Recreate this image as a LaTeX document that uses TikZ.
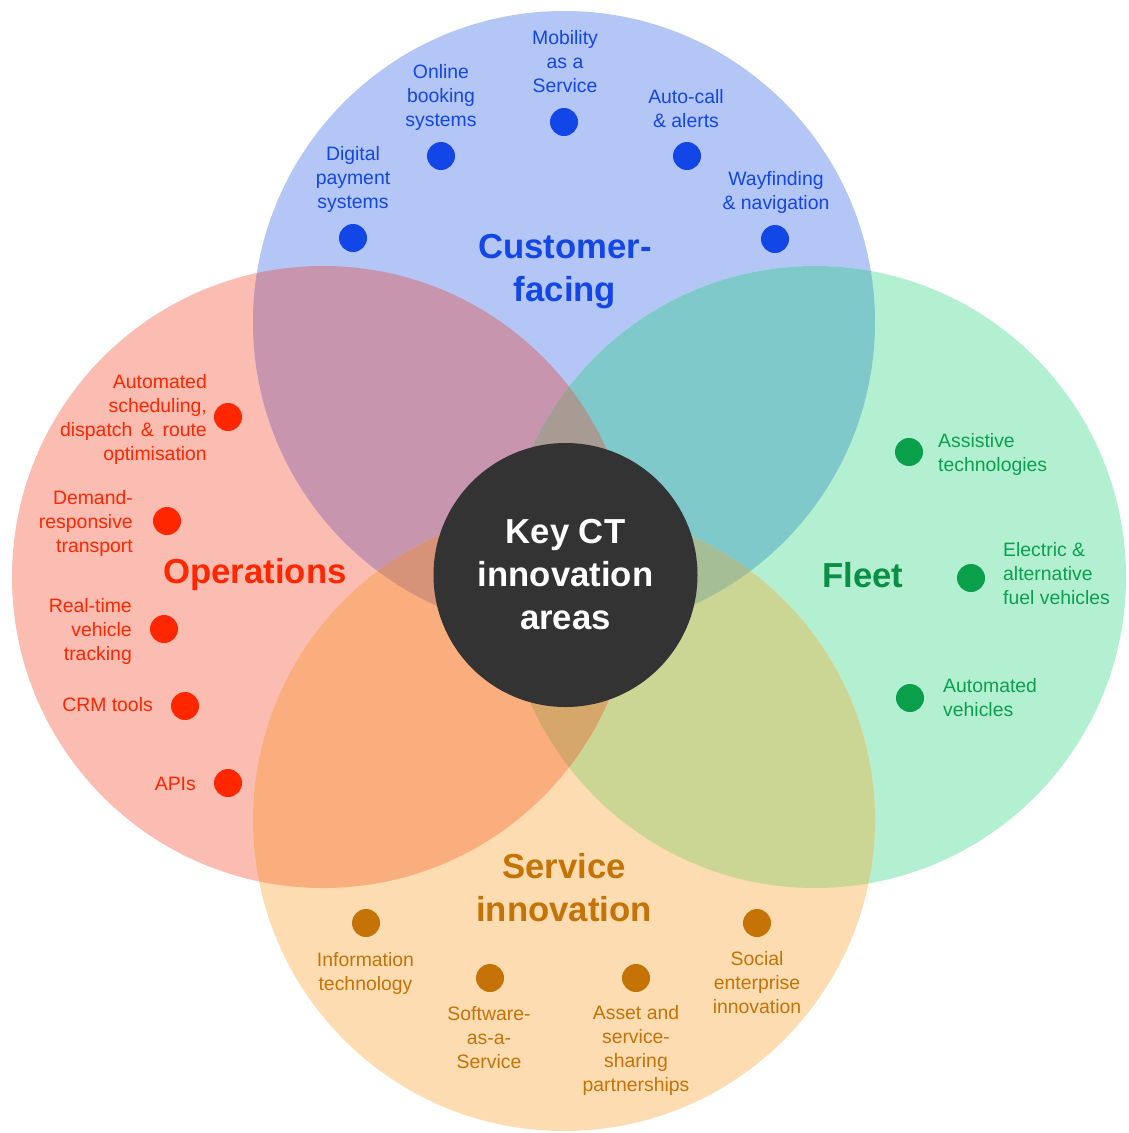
\documentclass[tikz,border=0pt]{standalone}
\usepackage{fontspec}
\setmainfont{Liberation Sans}
\definecolor{cB}{RGB}{180,198,245}
\definecolor{cR}{RGB}{251,188,178}
\definecolor{cG}{RGB}{179,240,210}
\definecolor{cO}{RGB}{253,220,177}
\definecolor{cRB}{RGB}{200,149,175}
\definecolor{cBG}{RGB}{128,201,202}
\definecolor{cGO}{RGB}{203,214,148}
\definecolor{cRO}{RGB}{250,174,125}
\definecolor{cRBG}{RGB}{167,155,147}
\definecolor{cRBO}{RGB}{215,147,122}
\definecolor{cBGO}{RGB}{165,190,150}
\definecolor{cRGO}{RGB}{213,167,106}
\definecolor{dark}{RGB}{51,51,51}
\definecolor{tB}{RGB}{18,70,230}
\definecolor{tR}{RGB}{255,38,0}
\definecolor{tG}{RGB}{10,160,75}
\definecolor{tO}{RGB}{197,114,6}
\begin{document}
\begin{tikzpicture}[x=1pt,y=-1pt,
  lbl/.style={font=\fontsize{19.4}{24}\selectfont, inner sep=0pt},
  ttl/.style={font=\fontsize{34.7}{43}\selectfont\bfseries, inner sep=0pt, align=center},
  bdot/.style={circle, inner sep=0pt, minimum size=28pt},
]
\useasboundingbox (0,0) rectangle (1128,1133);
\def\RR{311pt}
\coordinate (CB) at (564,322);
\coordinate (CR) at (323,577);
\coordinate (CG) at (815,577);
\coordinate (CO) at (564,820);
% single circles
\fill[cR] (CR) circle[radius=\RR];
\fill[cB] (CB) circle[radius=\RR];
\fill[cG] (CG) circle[radius=\RR];
\fill[cO] (CO) circle[radius=\RR];
% pairwise overlaps
\begin{scope}\clip (CR) circle[radius=\RR]; \fill[cRB] (CB) circle[radius=\RR];\end{scope}
\begin{scope}\clip (CB) circle[radius=\RR]; \fill[cBG] (CG) circle[radius=\RR];\end{scope}
\begin{scope}\clip (CG) circle[radius=\RR]; \fill[cGO] (CO) circle[radius=\RR];\end{scope}
\begin{scope}\clip (CO) circle[radius=\RR]; \fill[cRO] (CR) circle[radius=\RR];\end{scope}
% triple overlaps
\begin{scope}\clip (CR) circle[radius=\RR]; \clip (CB) circle[radius=\RR]; \fill[cRBG] (CG) circle[radius=\RR];\end{scope}
\begin{scope}\clip (CR) circle[radius=\RR]; \clip (CB) circle[radius=\RR]; \fill[cRBO] (CO) circle[radius=\RR];\end{scope}
\begin{scope}\clip (CB) circle[radius=\RR]; \clip (CG) circle[radius=\RR]; \fill[cBGO] (CO) circle[radius=\RR];\end{scope}
\begin{scope}\clip (CR) circle[radius=\RR]; \clip (CG) circle[radius=\RR]; \fill[cRGO] (CO) circle[radius=\RR];\end{scope}
% centre
\node[circle, fill=dark, minimum size=264pt, inner sep=0pt, text=white, ttl] (key) at (565.5,575) {Key CT\\innovation\\areas};
% titles
\node[ttl, text=tB] (tcust) at (565,271.5) {Customer-\\facing};
\node[ttl, text=tR] (tops) at (255,575) {Operations};
\node[ttl, text=tG!90!black] (tfleet) at (863,575) {Fleet};
\node[ttl, text=tO] (tserv) at (564,887.5) {Service\\innovation};
% customer-facing
\node[lbl, align=center, text=tB] (dp) at (353,179) {Digital\\payment\\systems};
\node[bdot, fill=tB] (dpd) at (353,238) {};
\node[lbl, align=center, text=tB] (ob) at (441,97.5) {Online\\booking\\systems};
\node[bdot, fill=tB] (obd) at (441,156) {};
\node[lbl, align=center, text=tB] (maas) at (565,62) {Mobility\\as a\\Service};
\node[bdot, fill=tB] (maasd) at (564,122) {};
\node[lbl, align=center, text=tB] (ac) at (686,108.5) {Auto-call\\\& alerts};
\node[bdot, fill=tB] (acd) at (687,156) {};
\node[lbl, align=center, text=tB] (wf) at (776,192) {Wayfinding\\\& navigation};
\node[bdot, fill=tB] (wfd) at (775,239) {};
% operations
\node[lbl, align=right, anchor=east, text=tR] (asd) at (207,419) {Automated\\scheduling,\\dispatch \,\& \,route\\optimisation};
\node[bdot, fill=tR] (asdd) at (228,417) {};
\node[lbl, align=right, anchor=east, text=tR] (drt) at (133,523) {Demand-\\responsive\\transport};
\node[bdot, fill=tR] (drtd) at (167,521) {};
\node[lbl, align=right, anchor=east, text=tR] (rtv) at (132,631) {Real-time\\vehicle\\tracking};
\node[bdot, fill=tR] (rtvd) at (164,629) {};
\node[lbl, anchor=east, text=tR] (crm) at (153,705) {CRM tools};
\node[bdot, fill=tR] (crmd) at (185,706) {};
\node[lbl, anchor=east, text=tR] (api) at (196,784) {APIs};
\node[bdot, fill=tR] (apid) at (228,783) {};
% fleet
\node[lbl, align=left, anchor=west, text=tG] (ast) at (938,454) {Assistive\\technologies};
\node[bdot, fill=tG] (astd) at (909,452) {};
\node[lbl, align=left, anchor=west, text=tG] (eav) at (1003,574) {Electric \&\\alternative\\fuel vehicles};
\node[bdot, fill=tG] (eavd) at (971,578) {};
\node[lbl, align=left, anchor=west, text=tG] (av) at (943,697.5) {Automated\\vehicles};
\node[bdot, fill=tG] (avd) at (910,698) {};
% service innovation
\node[lbl, align=center, text=tO] (it) at (365.5,973) {Information\\technology};
\node[bdot, fill=tO] (itd) at (366,923) {};
\node[lbl, align=center, text=tO] (saas) at (489,1038) {Software-\\as-a-\\Service};
\node[bdot, fill=tO] (saasd) at (490,978) {};
\node[lbl, align=center, text=tO] (asp) at (636,1050.5) {Asset and\\service-\\sharing\\partnerships};
\node[bdot, fill=tO] (aspd) at (636,978) {};
\node[lbl, align=center, text=tO] (sei) at (757,982.5) {Social\\enterprise\\innovation};
\node[bdot, fill=tO] (seid) at (757,923) {};
\end{tikzpicture}
\end{document}
